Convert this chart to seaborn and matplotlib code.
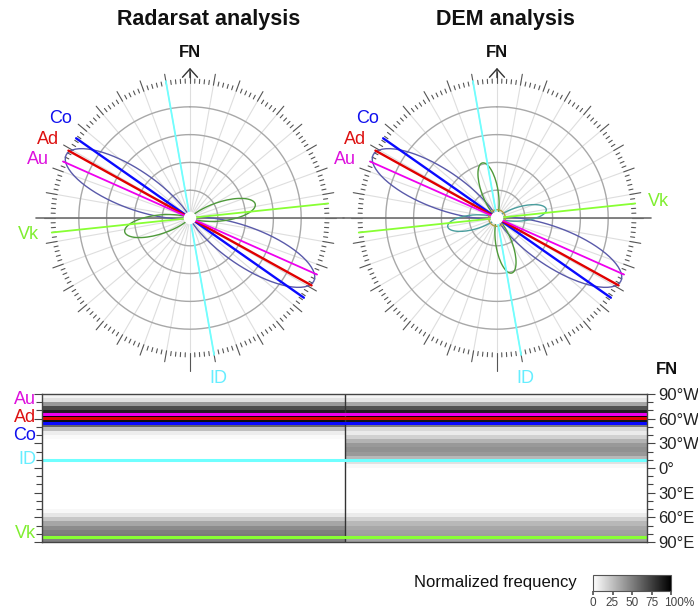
import numpy as np
import pandas as pd
import matplotlib
matplotlib.use('Agg')
import matplotlib.pyplot as plt
import seaborn as sns


# Lineament orientations (degrees from FN, negative = west)
lin_names = ['ID', 'Vk', 'Co', 'Ad', 'Au']
lin_az = [-10, 84, -55, -61, -66]

# Rose petals: peak orientation and relative length
rad_petal_az = [-63, 78]
rad_petal_len = [1.0, 0.48]
dem_petal_az = [-63, -15, 80]
dem_petal_len = [1.0, 0.41, 0.36]

# Normalized frequency, 5 degree bins from 90W to 90E
bin_centers = [-87.5, -82.5, -77.5, -72.5, -67.5, -62.5, -57.5, -52.5, -47.5,
               -42.5, -37.5, -32.5, -27.5, -22.5, -17.5, -12.5, -7.5, -2.5,
               2.5, 7.5, 12.5, 17.5, 22.5, 27.5, 32.5, 37.5, 42.5, 47.5,
               52.5, 57.5, 62.5, 67.5, 72.5, 77.5, 82.5, 87.5]
rad_freq = [0.05, 0.12, 0.40, 0.70, 0.88, 1.00, 0.95, 0.60, 0.25,
            0.07, 0.02, 0, 0, 0, 0, 0, 0, 0,
            0, 0, 0, 0, 0, 0, 0, 0, 0, 0,
            0.03, 0.10, 0.22, 0.35, 0.45, 0.50, 0.52, 0.50]
dem_freq = [0.04, 0.10, 0.35, 0.68, 0.88, 1.00, 0.92, 0.50, 0.15,
            0.08, 0.18, 0.30, 0.40, 0.43, 0.40, 0.28, 0.12, 0.03,
            0, 0, 0, 0, 0, 0, 0, 0, 0, 0,
            0.02, 0.08, 0.18, 0.28, 0.34, 0.37, 0.38, 0.36]

dir_ticks = [-90, -60, -30, 0, 30, 60, 90]
dir_labels = ['90°W', '60°W', '30°W', '0°', '30°E', '60°E', '90°E']
cbar_ticks = [0, 0.25, 0.5, 0.75, 1.0]
cbar_labels = ['0', '25', '50', '75', '100%']


sns.set_theme(style='white')
plt.rcParams['font.family'] = ['Liberation Sans', 'DejaVu Sans']

lin_cols = {'Co': '#0a0aff', 'Ad': '#e00000', 'Au': '#ee00ee',
            'ID': '#70ffff', 'Vk': '#88ff33'}
lab_cols = {'Co': '#1010ee', 'Ad': '#dd1111', 'Au': '#dd11dd',
            'ID': '#66eeff', 'Vk': '#80ee30'}
lin_lw = {'Co': 1.7, 'Ad': 1.7, 'Au': 1.3, 'ID': 1.3, 'Vk': 1.3}
# small angular nudges so the stacked rose labels do not collide
lab_turn = {'Co': 2.5, 'Ad': 0, 'Au': -3, 'ID': 0, 'Vk': 0}

W, H = 698, 610
fig = plt.figure(figsize=(W / 100, H / 100), dpi=100)

R_PX = 139
BOX = 340
LIM = BOX / 2 / R_PX
K = 16


def draw_rose(ax, petal_az, petal_len, petal_cols, flip, inner=None):
    ax.set_xlim(-LIM, LIM)
    ax.set_ylim(-LIM, LIM)
    ax.set_aspect('equal')
    ax.axis('off')
    t = np.linspace(0, 2 * np.pi, 361)
    for r in [0.2, 0.4, 0.6, 0.8]:
        ax.plot(r * np.sin(t), r * np.cos(t), color='#a8a8a8', lw=1)
    for d in range(0, 360, 10):
        a = np.radians(d)
        ax.plot([0, np.sin(a)], [0, np.cos(a)], color='#dedede', lw=0.8,
                zorder=1)
    for d in range(0, 360, 2):
        a = np.radians(d)
        r1 = 1.05 if d % 10 == 0 else 1.0
        if d == 180:
            r1 = 1.1
        ax.plot([0.97 * np.sin(a), r1 * np.sin(a)],
                [0.97 * np.cos(a), r1 * np.cos(a)], color='#555555', lw=0.8)
    ax.plot([-1.11, 1.11], [0, 0], color='#6e6e6e', lw=1.2)
    ax.annotate('', xy=(0, 1.1), xytext=(0, 0.99),
                arrowprops=dict(arrowstyle='->,head_length=0.5,head_width=0.45',
                                color='#333333', lw=1))
    ax.text(0, 1.19, 'FN', ha='center', va='center', fontsize=12,
            fontweight='bold', color='#111111')

    # petals
    phi = np.radians(np.linspace(-90, 90, 181))
    for az, L, c in zip(petal_az, petal_len, petal_cols):
        for base in (az, az + 180):
            r = L * np.cos(phi) ** K
            th = np.radians(base) + phi
            ax.plot(r * np.sin(th), r * np.cos(th), color=c, lw=1, zorder=3)
    if inner is not None:
        ax.plot(inner * np.sin(t), inner * np.cos(t), color='#b0a040', lw=1,
                zorder=3)

    # lineaments
    for name, az in zip(lin_names, lin_az):
        a = np.radians(az)
        ax.plot([-np.sin(a), np.sin(a)], [-np.cos(a), np.cos(a)],
                color=lin_cols[name], lw=lin_lw[name], zorder=4)
        la = np.radians(az + lab_turn[name])
        if name in flip:
            la += np.pi
        ax.text(1.17 * np.sin(la), 1.17 * np.cos(la), name, ha='center',
                va='center', fontsize=13, color=lab_cols[name], zorder=6)
    ax.add_patch(plt.Circle((0, 0), 0.04, color='white', zorder=5))


ax_l = fig.add_axes([20 / W, 1 - 388 / H, BOX / W, BOX / H])
ax_r = fig.add_axes([327 / W, 1 - 388 / H, BOX / W, BOX / H])
ax_l.patch.set_alpha(0)
ax_r.patch.set_alpha(0)
draw_rose(ax_l, rad_petal_az, rad_petal_len, ['#5a5aaa', '#4e9a3a'],
          flip=['ID', 'Vk'])
draw_rose(ax_r, dem_petal_az, dem_petal_len,
          ['#5a5aaa', '#4e9a3a', '#4a9e9e'], flip=['ID'], inner=0.06)

fig.text(209 / W, 1 - 20 / H, 'Radarsat analysis', ha='center', va='center',
         fontsize=15.5, fontweight='bold', color='#111111')
fig.text(505 / W, 1 - 20 / H, 'DEM analysis', ha='center', va='center',
         fontsize=15.5, fontweight='bold', color='#111111')

# frequency strip
freq = pd.DataFrame({'Radarsat': rad_freq, 'DEM': dem_freq},
                    index=bin_centers)
ax_h = fig.add_axes([42 / W, 1 - 542 / H, 605 / W, 148 / H])
cax = fig.add_axes([593 / W, 1 - 591 / H, 78 / W, 16 / H])
sns.heatmap(freq, ax=ax_h, cmap='gray_r', vmin=0, vmax=1, cbar_ax=cax,
            cbar_kws={'orientation': 'horizontal'},
            xticklabels=False, yticklabels=False)


def to_row(o):
    return (o + 90) / 5


for s in ax_h.spines.values():
    s.set_visible(True)
    s.set_color('#444444')
    s.set_linewidth(1)
ax_h.axvline(1, color='#333333', lw=1)
for name, az in zip(lin_names, lin_az):
    ax_h.axhline(to_row(az), color=lin_cols[name], lw=2.2)

ax_h.set_xticks([])
ax_h.set_yticks([to_row(o) for o in dir_ticks])
ax_h.set_yticks([to_row(o) for o in range(-90, 91, 10)], minor=True)
ax_h.set_yticklabels(dir_labels, fontsize=12, color='#222222')
ax_h.tick_params(axis='y', which='both', left=True, right=True,
                 labelleft=False, labelright=True, direction='out',
                 color='#444444', pad=2)
ax_h.tick_params(axis='y', which='major', length=6, width=0.8)
ax_h.tick_params(axis='y', which='minor', length=4, width=0.8)

lab_shift = {'Au': -17, 'Ad': 0, 'Co': 16, 'ID': 0, 'Vk': -4}
for name, az in zip(lin_names, lin_az):
    ax_h.text(-0.01, to_row(az + lab_shift[name]), name, ha='right',
              va='center', fontsize=13, color=lab_cols[name],
              transform=ax_h.get_yaxis_transform())
fig.text(667 / W, 1 - 370 / H, 'FN', ha='center', va='center', fontsize=12,
         fontweight='bold', color='#111111')

cbar = ax_h.collections[0].colorbar
cbar.outline.set_edgecolor('#555555')
cbar.outline.set_linewidth(0.8)
cbar.set_ticks(cbar_ticks)
cbar.set_ticklabels(cbar_labels[:-1] + [''])
cax.tick_params(labelsize=8.5, length=3, color='#555555', labelcolor='#444444',
                pad=1)
cax.annotate(cbar_labels[-1], xy=(1, 0), xycoords='axes fraction',
             xytext=(-5, -4), textcoords='offset points', ha='left', va='top',
             fontsize=8.5, color='#444444')
fig.text(577 / W, 1 - 583 / H, 'Normalized frequency', ha='right',
         va='center', fontsize=12, color='#111111')

fig.savefig('out.png', dpi=100)
